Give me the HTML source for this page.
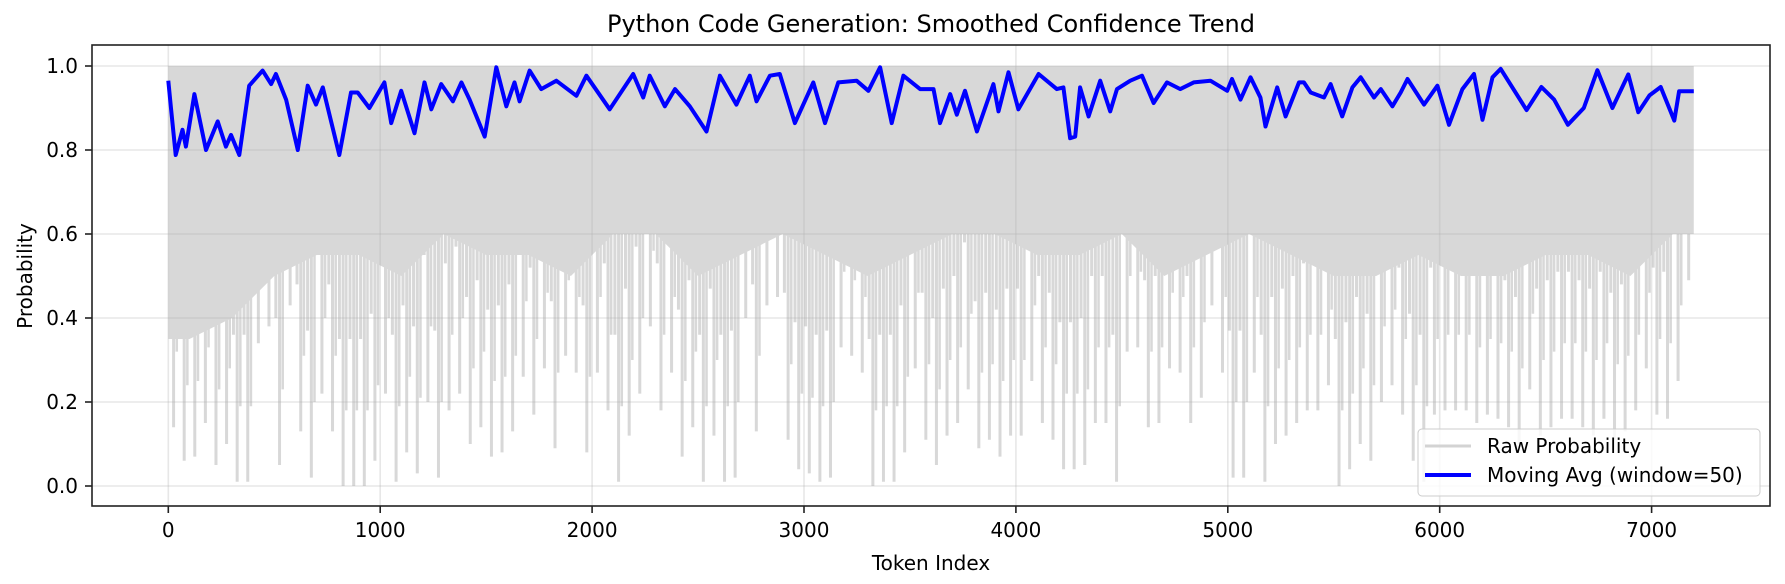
<!DOCTYPE html>
<html><head><meta charset="utf-8"><style>
html,body{margin:0;padding:0;background:#fff;}
svg{display:block;font-family:"DejaVu Sans","Liberation Sans",sans-serif;}
</style></head><body>
<svg id="chart" width="1785" height="584" viewBox="0 0 1785 584">
<rect x="0" y="0" width="1785" height="584" fill="#fff"/>
<g id="raw"></g>
<g id="grid"></g>
<g id="ma"></g>
<g id="axes"></g>
<text x="931" y="32" text-anchor="middle" font-size="24" fill="#000">Python Code Generation: Smoothed Confidence Trend</text>
<text x="931" y="570" text-anchor="middle" font-size="20" fill="#000">Token Index</text>
<text x="0" y="0" transform="translate(32,276) rotate(-90)" text-anchor="middle" font-size="20" fill="#000">Probability</text>
<g>
<rect x="1418" y="429" width="342" height="67" rx="4" fill="#fff" fill-opacity="0.8" stroke="#ccc"/>
<line x1="1425" y1="446" x2="1471" y2="446" stroke="#d3d3d3" stroke-width="3"/>
<text x="1487" y="453" font-size="20" fill="#000">Raw Probability</text>
<line x1="1425" y1="475" x2="1471" y2="475" stroke="#0000ff" stroke-width="4"/>
<text x="1487" y="482" font-size="20" fill="#000">Moving Avg (window=50)</text>
</g>
</svg>
<script>
const rawBinSize = 50;
const rawBinMin = [0.14,0.06,0.07,0.15,0.05,0.10,0.01,0.01,0.34,0.38,0.05,0.43,0.13,0.02,0.22,0.13,0.0,0.0,0.0,0.06,0.22,0.01,0.08,0.03,0.20,0.02,0.18,0.22,0.10,0.14,0.07,0.08,0.13,0.26,0.17,0.28,0.09,0.31,0.27,0.08,0.27,0.18,0.01,0.12,0.22,0.38,0.18,0.27,0.07,0.14,0.01,
0.12,0.01,0.02,0.40,0.13,0.43,0.45,0.11,0.04,0.03,0.01,0.02,0.33,0.31,0.27,0.0,0.01,0.01,0.08,0.28,0.11,0.05,0.12,0.15,0.23,0.09,0.11,0.07,0.12,0.12,0.25,0.15,0.11,0.04,0.04,0.05,0.15,0.15,0.01,0.32,0.33,0.14,0.15,0.28,0.27,0.15,0.21,0.43,0.27,
0.02,0.02,0.27,0.01,0.10,0.12,0.15,0.18,0.18,0.24,0.0,0.04,0.10,0.06,0.20,0.24,0.17,0.06,0.01,0.17,0.18,0.18,0.18,0.15,0.17,0.16,0.14,0.10,0.23,0.12,0.14,0.16,0.16,0.14,0.12,0.16,0.11,0.13,0.18,0.28,0.17,0.16,0.25,0.49];
const rawChunkSize = 200;
const rawDenseLevel = [0.35,0.4,0.5,0.55,0.55,0.5,0.6,0.55,0.55,0.5,0.6,0.6,0.5,0.55,0.6,0.55,0.5,0.55,0.6,0.6,0.55,0.55,0.6,0.5,0.55,0.6,0.55,0.5,0.5,0.55,0.5,0.5,0.55,0.55,0.5,0.6];
const rawMax = 1.0;
const maTokens = [0,12,35,67,83,123,178,233,272,296,335,382,445,485,508,556,611,658,697,729,807,862,894,949,1020,1052,1099,1162,1209,1241,1288,1343,1383,1422,1493,1548,1595,1634,1658,1705,1760,1831,1926,1973,
2083,2194,2241,2272,2343,2391,2461,2540,2603,2681,2744,2776,2839,2886,2957,3044,3099,3162,3248,3304,3359,3414,3469,3548,3611,3642,3690,3721,3760,3816,3894,3918,3965,4012,4107,
4193,4224,4256,4280,4303,4343,4398,4445,4477,4540,4595,4650,4713,4776,4839,4918,4997,5020,5060,5107,5154,5178,5233,5273,5336,5359,5391,5454,5485,5540,5588,5627,5690,5722,5777,5816,5848,5926,5989,6044,6107,6162,6202,6249,6288,
6410,6480,6540,6605,6680,6744,6815,6890,6937,6990,7043,7107,7130,7199];
const maValues = [0.965,0.904,0.788,0.848,0.808,0.933,0.800,0.868,0.808,0.836,0.788,0.953,0.989,0.957,0.981,0.920,0.800,0.953,0.908,0.949,0.788,0.937,0.937,0.900,0.961,0.864,0.941,0.840,0.961,0.897,0.957,0.916,0.961,0.920,0.832,0.997,0.904,0.961,0.916,0.989,0.945,0.965,0.929,0.977,
0.897,0.981,0.925,0.977,0.904,0.945,0.904,0.844,0.977,0.908,0.977,0.916,0.977,0.981,0.864,0.961,0.864,0.961,0.965,0.941,0.997,0.864,0.977,0.945,0.945,0.864,0.933,0.884,0.941,0.844,0.957,0.892,0.985,0.897,0.981,
0.945,0.949,0.828,0.832,0.949,0.880,0.965,0.892,0.945,0.965,0.977,0.912,0.961,0.945,0.961,0.965,0.941,0.969,0.920,0.973,0.925,0.856,0.949,0.880,0.961,0.961,0.937,0.925,0.957,0.880,0.949,0.973,0.925,0.945,0.904,0.937,0.969,0.908,0.953,0.860,0.945,0.981,0.872,0.973,0.993,
0.895,0.95,0.92,0.86,0.90,0.99,0.90,0.98,0.89,0.93,0.95,0.87,0.94,0.94];
const xTicks = [0,1000,2000,3000,4000,5000,6000,7000];
const yTicks = [0.0,0.2,0.4,0.6,0.8,1.0];

const NS = "http://www.w3.org/2000/svg";
const L = 92, R = 1770, T = 45, B = 506;
function xs(t){ return 168.3 + t * 0.2119; }
function ys(v){ return 486 - v * 420; }
function mk(tag, attrs, parent){
  const e = document.createElementNS(NS, tag);
  for (const k in attrs) e.setAttribute(k, attrs[k]);
  parent.appendChild(e);
  return e;
}
const rawG = document.getElementById('raw');
let d = 'M' + xs(0) + ',' + ys(rawMax);
d += 'L' + xs(0) + ',' + ys(rawDenseLevel[0]);
rawDenseLevel.forEach((v, i) => {
  const xc = xs(Math.min(i * rawChunkSize + rawChunkSize / 2, 7199));
  d += 'L' + xc + ',' + ys(v);
});
d += 'L' + xs(7199) + ',' + ys(rawDenseLevel[rawDenseLevel.length - 1]) + 'L' + xs(7199) + ',' + ys(rawMax) + 'Z';
const body = mk('path', {d: d, fill: '#d8d8d8'}, rawG);


rawBinMin.forEach((v, i) => {
  const xc = xs(i * rawBinSize + rawBinSize / 2);
  const ln = mk('line', {x1: xc, x2: xc, y1: ys(rawMax), y2: ys(v), stroke: '#d8d8d8', 'stroke-width': 3}, rawG);
  
  
  const xb = xs(i * rawBinSize + rawBinSize * 0.15);
  const ln2 = mk('line', {x1: xb, x2: xb, y1: ys(rawMax), y2: ys(Math.min(1, v + 0.35)), stroke: '#d8d8d8', 'stroke-width': 3}, rawG);
  
  
  const xd = xs(i * rawBinSize + rawBinSize * 0.8);
  const ln3 = mk('line', {x1: xd, x2: xd, y1: ys(rawMax), y2: ys(Math.min(1, v + 0.18)), stroke: '#d8d8d8', 'stroke-width': 2.5}, rawG);
  
  
});
const gridG = document.getElementById('grid');
xTicks.forEach(t => {
  const g = mk('line', {x1: xs(t), x2: xs(t), y1: T, y2: B, stroke: '#b0b0b0', 'stroke-opacity': 0.3, 'stroke-width': 1.6}, gridG);
  
  
});
yTicks.forEach(v => {
  const g = mk('line', {x1: L, x2: R, y1: ys(v), y2: ys(v), stroke: '#b0b0b0', 'stroke-opacity': 0.3, 'stroke-width': 1.6}, gridG);
  
  
});
const maG = document.getElementById('ma');
const pts = maTokens.map((t, i) => xs(t).toFixed(1) + ',' + ys(maValues[i]).toFixed(1)).join(' ');
const pl = mk('polyline', {points: pts, fill: 'none', stroke: '#0000ff', 'stroke-width': 4, 'stroke-linejoin': 'round'}, maG);


const axG = document.getElementById('axes');
const frame = mk('rect', {x: L, y: T, width: R - L, height: B - T, fill: 'none', stroke: '#222', 'stroke-width': 1.6}, axG);


xTicks.forEach(t => {
  const tk = mk('line', {x1: xs(t), x2: xs(t), y1: B, y2: B + 7, stroke: '#222', 'stroke-width': 1.6}, axG);
  
  
  const lb = mk('text', {x: xs(t), y: 537, 'text-anchor': 'middle', 'font-size': 20, fill: '#000'}, axG);
  lb.textContent = String(t);
  
  
});
yTicks.forEach(v => {
  const tk = mk('line', {x1: L - 7, x2: L, y1: ys(v), y2: ys(v), stroke: '#222', 'stroke-width': 1.6}, axG);
  
  
  const lb = mk('text', {x: 78, y: ys(v) + 7, 'text-anchor': 'end', 'font-size': 20, fill: '#000'}, axG);
  lb.textContent = v.toFixed(1);
  
  
});
</script>
</body></html>
